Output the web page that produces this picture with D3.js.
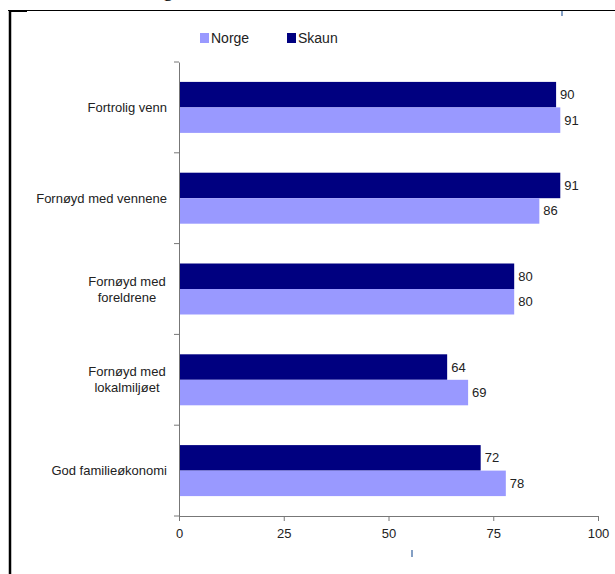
<!DOCTYPE html>
<html><head><meta charset="utf-8">
<script src="https://cdn.jsdelivr.net/npm/d3@7"></script>
<style>body{margin:0;background:#fff}svg{display:block}</style>
</head><body>
<script>
const categories = ["Fortrolig venn", "Fornøyd med vennene", "Fornøyd med\nforeldrene", "Fornøyd med\nlokalmiljøet", "God familieøkonomi"];
const seriesNames = ["Skaun", "Norge"];
const skaun = [90, 91, 80, 64, 72];
const norge = [91, 86, 80, 69, 78];
const xTicks = [0, 25, 50, 75, 100];
const colors = {Skaun: "#000080", Norge: "#9999FF"};

const W = 615, H = 574;
const svg = d3.select("body").append("svg").attr("width", W).attr("height", H);
const font = "Liberation Sans, Arial, sans-serif";

// page frame
svg.append("line").attr("x1", 8).attr("x2", 615).attr("y1", 10.5).attr("y2", 10.5).attr("stroke", "#000").attr("stroke-width", 1.2);
svg.append("line").attr("x1", 10).attr("x2", 10).attr("y1", 10).attr("y2", 574).attr("stroke", "#000").attr("stroke-width", 2.5);
svg.append("line").attr("x1", 9).attr("x2", 27).attr("y1", 11).attr("y2", 11).attr("stroke", "#000").attr("stroke-width", 2);
svg.append("text").attr("x", 163).attr("y", -4).attr("font-family", "Liberation Serif, serif").attr("font-size", 20).text("g");
svg.append("line").attr("x1", 562).attr("x2", 562).attr("y1", 11).attr("y2", 16).attr("stroke", "#5b7fb0").attr("stroke-width", 1.5);
svg.append("line").attr("x1", 412).attr("x2", 412).attr("y1", 550).attr("y2", 557).attr("stroke", "#5b7fb0").attr("stroke-width", 1.5);

const x = d3.scaleLinear().domain([0, 100]).range([179, 598]);
const y = d3.scaleBand().domain(categories).range([62, 516]).padding(0);
const barH = 25.5;
const sub = d3.scaleBand().domain(seriesNames).range([0, barH * 2]);

const data = categories.map((c, i) => ({cat: c, values: [{s: "Skaun", v: skaun[i]}, {s: "Norge", v: norge[i]}]}));

const g = svg.append("g");
const groups = g.selectAll("g.cat").data(data).join("g")
  .attr("transform", d => `translate(0,${y(d.cat) + y.bandwidth() / 2 - barH})`);
groups.selectAll("rect").data(d => d.values).join("rect")
  .attr("x", x(0)).attr("y", d => sub(d.s))
  .attr("width", d => x(d.v) - x(0)).attr("height", sub.bandwidth())
  .attr("fill", d => colors[d.s]);
groups.selectAll("text.val").data(d => d.values).join("text").attr("class", "val")
  .attr("x", d => x(d.v) + 4).attr("y", d => sub(d.s) + sub.bandwidth() / 2)
  .attr("dy", "0.35em").attr("font-family", font).attr("font-size", 13).attr("fill", "#222")
  .text(d => d.v);

// x axis
const xAxis = g.append("g").attr("transform", "translate(0,516)")
  .call(d3.axisBottom(x).tickValues(xTicks).tickSize(5).tickSizeOuter(0));
xAxis.select(".domain").attr("stroke", "#777");
xAxis.selectAll(".tick line").attr("stroke", "#777");
xAxis.selectAll("text").attr("font-family", font).attr("font-size", 13).attr("fill", "#222").attr("dy", "1.05em");

// y axis
const yAxis = g.append("g").attr("transform", "translate(179,0)")
  .call(d3.axisLeft(y).tickValues([]).tickSizeOuter(0));
yAxis.select(".domain").attr("stroke", "#777");
const bounds = d3.range(categories.length + 1).map(i => 62 + i * y.bandwidth());
yAxis.selectAll("line.b").data(bounds).join("line").attr("class", "b")
  .attr("x1", -5).attr("x2", 0).attr("y1", d => d).attr("y2", d => d).attr("stroke", "#777");

// category labels
categories.forEach(c => {
  const lines = c.split("\n");
  const cy = y(c) + y.bandwidth() / 2;
  const t = svg.append("text").attr("font-family", font).attr("font-size", 13).attr("fill", "#222");
  if (lines.length === 1) {
    t.attr("x", 167).attr("y", cy).attr("dy", "0.35em").attr("text-anchor", "end").text(c);
  } else {
    const lh = 16;
    t.attr("text-anchor", "middle");
    lines.forEach((l, i) => {
      t.append("tspan").attr("x", 127).attr("y", cy + (i - (lines.length - 1) / 2) * lh).attr("dy", "0.35em").text(l);
    });
  }
});

// legend
const legendItems = ["Norge", "Skaun"];
const legX = [200, 287];
const leg = svg.append("g");
legendItems.forEach((s, i) => {
  leg.append("rect").attr("x", legX[i]).attr("y", 33).attr("width", 9).attr("height", 10).attr("fill", colors[s]);
  leg.append("text").attr("x", legX[i] + 11).attr("y", 38).attr("dy", "0.36em")
    .attr("font-family", font).attr("font-size", 14).attr("fill", "#222").text(s);
});
</script>
</body></html>
